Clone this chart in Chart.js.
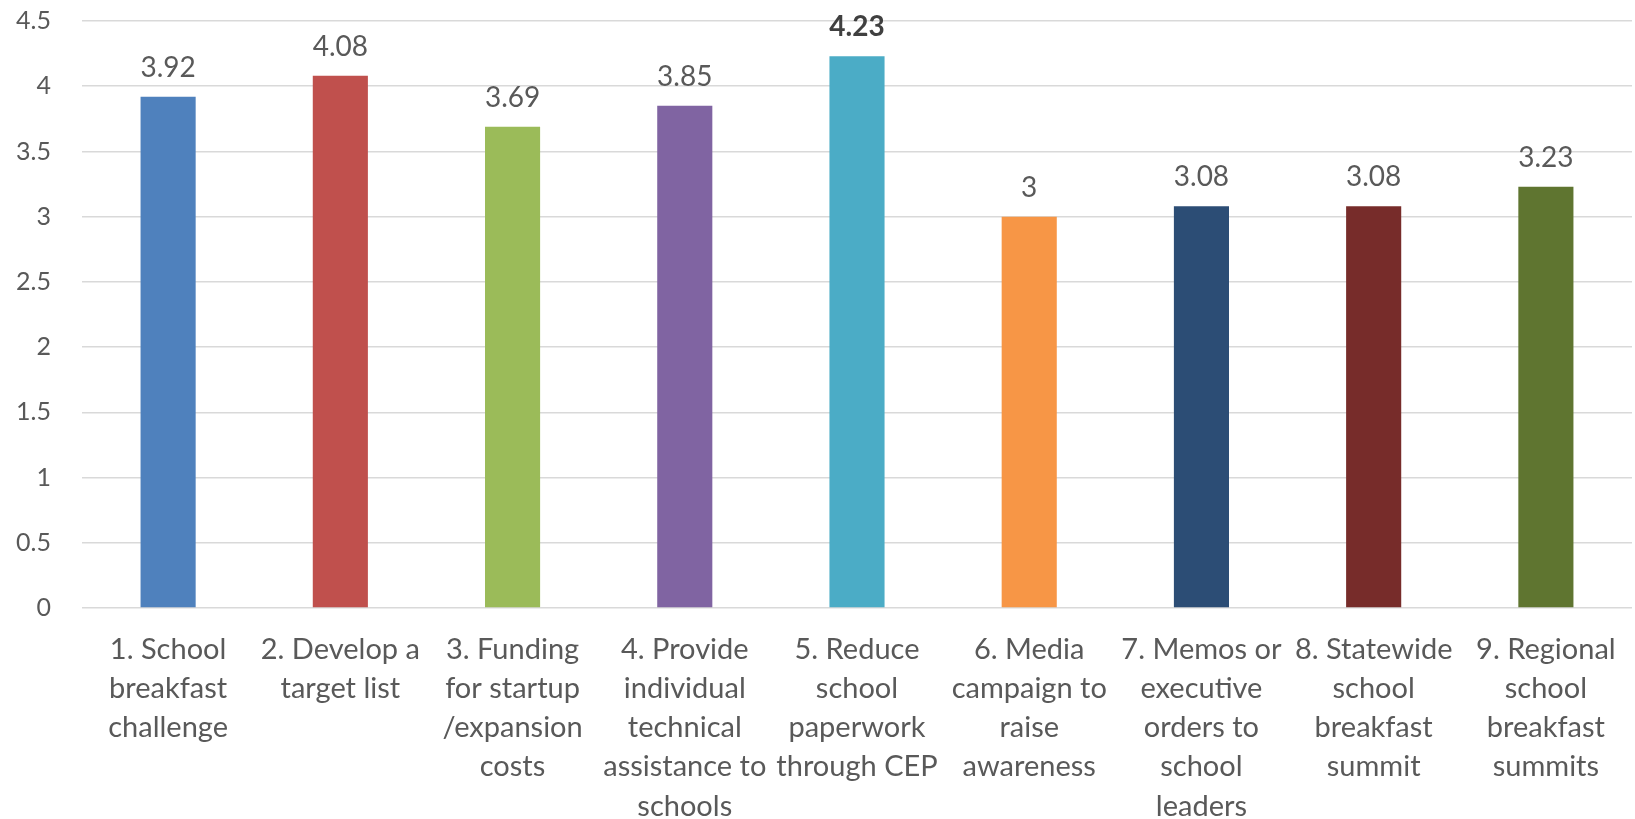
<!DOCTYPE html>
<html>
<head>
<meta charset="utf-8">
<script src="https://cdn.jsdelivr.net/npm/chart.js@4"></script>
<style>
    html, body { margin: 0; padding: 0; background: #fff; }
    #wrap { width: 1635px; height: 819px; }
</style>
</head>
<body>
<div id="wrap"><canvas id="ratingChart"></canvas></div>
<script>
// chart data
const categories = [
    ['1. School', 'breakfast', 'challenge'],
    ['2. Develop a', 'target list'],
    ['3. Funding', 'for startup', '/expansion', 'costs'],
    ['4. Provide', 'individual', 'technical', 'assistance to', 'schools'],
    ['5. Reduce', 'school', 'paperwork', 'through CEP'],
    ['6. Media', 'campaign to', 'raise', 'awareness'],
    ['7. Memos or', 'executive', 'orders to', 'school', 'leaders'],
    ['8. Statewide', 'school', 'breakfast', 'summit'],
    ['9. Regional', 'school', 'breakfast', 'summits']
];
const scores = [3.92, 4.08, 3.69, 3.85, 4.23, 3, 3.08, 3.08, 3.23];
const barColors = ['#4F81BD', '#C0504D', '#9BBB59', '#8064A2', '#4BACC6', '#F79646', '#2C4D75', '#772C2A', '#5F7530'];
const boldIndex = 4;

const textColor = '#595959';
const fontFamily = 'Lato, "Open Sans", sans-serif';

// draws the value above each bar
const valueLabels = {
    id: 'valueLabels',
    afterDatasetsDraw(chart) {
        const ctx = chart.ctx;
        const meta = chart.getDatasetMeta(0);
        ctx.save();
        ctx.textAlign = 'center';
        ctx.textBaseline = 'middle';
        meta.data.forEach(function(bar, i) {
            ctx.font = (i === boldIndex ? 'bold ' : '') + '28px ' + fontFamily;
            ctx.fillStyle = i === boldIndex ? '#404040' : textColor;
            ctx.fillText(String(scores[i]), bar.x, bar.y - 29);
        });
        ctx.restore();
    }
};

document.addEventListener('DOMContentLoaded', function() {
    const ctx = document.getElementById('ratingChart');
    new Chart(ctx.getContext('2d'), {
        type: 'bar',
        data: {
            labels: categories,
            datasets: [{
                data: scores,
                backgroundColor: barColors,
                barPercentage: 0.32,
                categoryPercentage: 1
            }]
        },
        options: {
            responsive: true,
            maintainAspectRatio: false,
            animation: false,
            layout: { padding: { top: 21, right: 3, bottom: 0, left: 0 } },
            plugins: {
                legend: { display: false },
                tooltip: { enabled: false }
            },
            scales: {
                x: {
                    grid: { display: false, drawTicks: false },
                    border: { display: false },
                    ticks: {
                        color: textColor,
                        font: { family: fontFamily, size: 29, lineHeight: 1.35 },
                        padding: 22,
                        maxRotation: 0,
                        autoSkip: false
                    },
                    afterFit: function(scale) {
                        scale.height = 211;
                        scale.paddingLeft = 0;
                        scale.paddingRight = 0;
                    }
                },
                y: {
                    min: 0,
                    max: 4.5,
                    grid: { color: '#D9D9D9', lineWidth: 1.5, drawTicks: false },
                    border: { display: false },
                    ticks: {
                        stepSize: 0.5,
                        color: textColor,
                        font: { family: fontFamily, size: 25 },
                        padding: 31,
                        callback: function(value) {
                            return String(value);
                        }
                    },
                    afterFit: function(scale) {
                        scale.width = 82;
                        scale.paddingTop = 0;
                        scale.paddingBottom = 0;
                    }
                }
            }
        },
        plugins: [valueLabels]
    });
});
</script>
</body>
</html>
